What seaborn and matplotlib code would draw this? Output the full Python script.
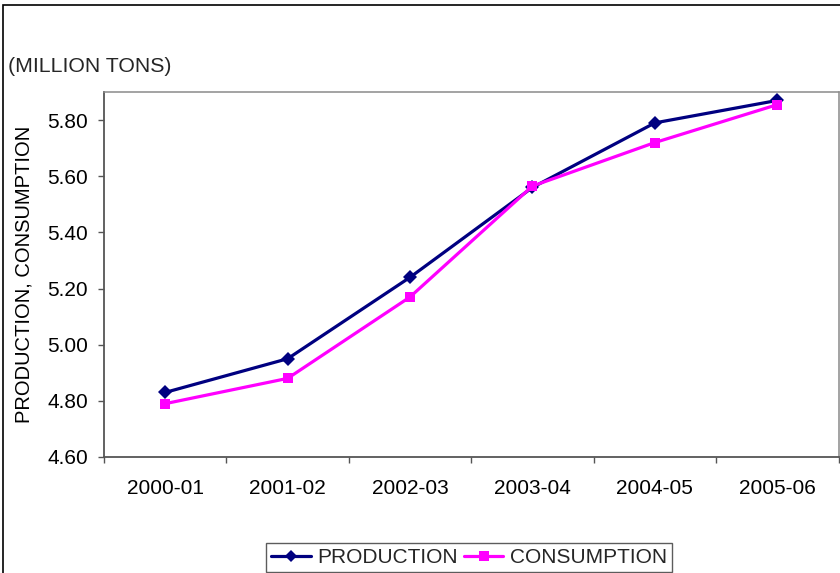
import matplotlib
matplotlib.use("Agg")
import matplotlib.pyplot as plt
from matplotlib.patches import Rectangle
from matplotlib.ticker import FixedLocator, NullFormatter
import pandas as pd
import seaborn as sns

# Annual figures, million tons
years = ["2000-01", "2001-02", "2002-03", "2003-04", "2004-05", "2005-06"]
production = [4.83, 4.95, 5.24, 5.56, 5.79, 5.87]
consumption = [4.79, 4.88, 5.17, 5.565, 5.72, 5.855]
y_ticks = [4.60, 4.80, 5.00, 5.20, 5.40, 5.60, 5.80]

sns.set_theme(style="white")
plt.rcParams["font.family"] = ["Liberation Sans", "DejaVu Sans"]
FS = 15

df = pd.DataFrame({
    "pos": list(range(len(years))) * 2,
    "value": production + consumption,
    "series": ["PRODUCTION"] * len(years) + ["CONSUMPTION"] * len(years),
})

W, H = 840, 573
fig = plt.figure(figsize=(W / 100, H / 100), dpi=100)
ax = fig.add_axes([104 / W, 1 - 457 / H, (838.5 - 104) / W, (457 - 92) / H])

sns.lineplot(
    data=df, x="pos", y="value", hue="series", style="series",
    palette={"PRODUCTION": "#000080", "CONSUMPTION": "#FF00FF"},
    markers={"PRODUCTION": "D", "CONSUMPTION": "s"},
    dashes=False, linewidth=2.3, markersize=7, markeredgewidth=0,
    ax=ax, legend=False,
)

ax.set_xlim(-0.5, len(years) - 0.5)
ax.set_ylim(4.60, 5.90)

# Category labels centred, tick marks on the category boundaries
ax.xaxis.set_major_locator(FixedLocator([i - 0.5 for i in range(len(years) + 1)]))
ax.xaxis.set_major_formatter(NullFormatter())
ax.set_xticks(list(range(len(years))), minor=True)
ax.set_xticklabels(years, minor=True, fontsize=FS)
ax.tick_params(axis="x", which="major", direction="out", length=4.5, width=1,
               color="#555555", bottom=True)
ax.tick_params(axis="x", which="minor", length=0, pad=16, labelcolor="black")

ax.set_yticks(y_ticks)
ax.set_yticklabels([f"{v:.2f}" for v in y_ticks], fontsize=FS)
ax.tick_params(axis="y", direction="out", length=4.5, width=1, color="#555555",
               pad=7, left=True, labelcolor="black")

ax.set_xlabel("")
ax.set_ylabel("PRODUCTION, CONSUMPTION", fontsize=14.5, color="black")
ax.yaxis.set_label_coords(34 / W, 1 - 274.5 / H, transform=fig.transFigure)

for side in ("left", "bottom"):
    ax.spines[side].set_color("#555555")
    ax.spines[side].set_linewidth(1.3)
for side in ("top", "right"):
    ax.spines[side].set_color("#8a8a8a")
    ax.spines[side].set_linewidth(1.1)

fig.text(8 / W, 1 - 67 / H, "(MILLION TONS)", fontsize=15.3, va="center", ha="left")

# Outer chart frame
fig.patches.append(Rectangle((3 / W, -0.05), 1.0, 1 - 5 / H + 0.05,
                             transform=fig.transFigure, fill=False,
                             edgecolor="black", linewidth=1.2))

handles = [
    plt.Line2D([], [], color="#000080", marker="D", markersize=6.5,
               markeredgewidth=0, linewidth=2.3),
    plt.Line2D([], [], color="#FF00FF", marker="s", markersize=6.5,
               markeredgewidth=0, linewidth=2.3),
]
leg = fig.legend(handles, ["PRODUCTION", "CONSUMPTION"], loc="lower center",
                 bbox_to_anchor=(469 / W, 1 / H), bbox_transform=fig.transFigure,
                 ncol=2, fontsize=FS, frameon=True, fancybox=False,
                 borderpad=0.25, handlelength=1.9, handletextpad=0.3,
                 columnspacing=0.3, borderaxespad=0)
leg.get_frame().set_edgecolor("#333333")
leg.get_frame().set_linewidth(1.0)

fig.savefig("out.png", dpi=100)
